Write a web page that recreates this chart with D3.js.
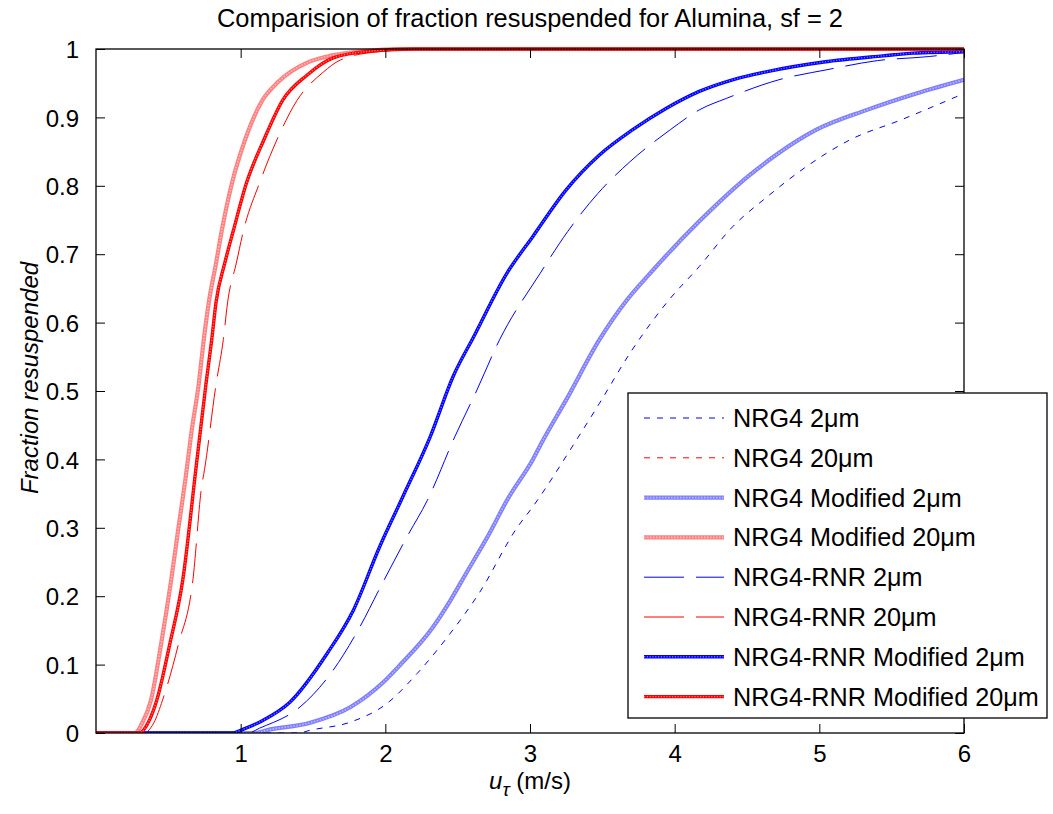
<!DOCTYPE html>
<html><head><meta charset="utf-8">
<script src="https://cdn.jsdelivr.net/npm/d3@7"></script>
<style>
html,body{margin:0;padding:0;background:#fff;}
text{font-family:"Liberation Sans",Arial,sans-serif;fill:#000;}
</style></head>
<body>
<svg id="chart" width="1053" height="814"></svg>
<script>
// ---- data ----
const title = "Comparision of fraction resuspended for Alumina, sf = 2";
const xTicks = [1, 2, 3, 4, 5, 6];
const yTicks = [0, 0.1, 0.2, 0.3, 0.4, 0.5, 0.6, 0.7, 0.8, 0.9, 1];
const yTickLabels = ["0","0.1","0.2","0.3","0.4","0.5","0.6","0.7","0.8","0.9","1"];

const nrg4_2 = [[0,0],[1.4,0],[1.48,0.004],[1.76,0.016],[2.01,0.043],[2.22,0.087],[2.45,0.146],[2.65,0.205],[2.91,0.30],[3.02,0.331],[3.32,0.428],[3.48,0.482],[3.69,0.555],[3.96,0.633],[4.17,0.682],[4.40,0.740],[4.64,0.784],[4.91,0.828],[5.21,0.867],[5.56,0.896],[6.0,0.935]];
const nrg4_20 = [[0,0],[0.30,0],[0.36,0.016],[0.42,0.05],[0.51,0.132],[0.60,0.226],[0.69,0.387],[0.76,0.512],[0.80,0.577],[0.83,0.632],[0.89,0.689],[0.95,0.737],[1.04,0.806],[1.16,0.869],[1.29,0.926],[1.46,0.963],[1.64,0.988],[1.9,0.997],[2.2,1],[6,1]];
const nrg4Mod_2 = [[0,0],[1.1,0],[1.18,0.004],[1.48,0.015],[1.76,0.038],[1.98,0.073],[2.10,0.099],[2.33,0.155],[2.45,0.194],[2.56,0.234],[2.72,0.292],[2.84,0.34],[3.02,0.40],[3.09,0.428],[3.25,0.487],[3.48,0.575],[3.67,0.633],[3.83,0.672],[4.17,0.748],[4.52,0.816],[4.70,0.845],[4.98,0.882],[5.33,0.911],[5.67,0.935],[6.0,0.955]];
const nrg4Mod_20 = [[0,0],[0.27,0],[0.32,0.015],[0.38,0.048],[0.45,0.13],[0.52,0.224],[0.57,0.30],[0.62,0.374],[0.66,0.44],[0.71,0.51],[0.745,0.575],[0.78,0.63],[0.83,0.687],[0.87,0.735],[0.94,0.804],[1.03,0.867],[1.15,0.925],[1.26,0.952],[1.46,0.98],[1.64,0.991],[1.85,0.997],[2.1,1],[6,1]];
const rnr_2 = [[0,0],[1.05,0],[1.13,0.007],[1.41,0.038],[1.64,0.092],[1.80,0.146],[1.98,0.219],[2.15,0.287],[2.29,0.34],[2.48,0.433],[2.63,0.50],[2.79,0.575],[3.07,0.672],[3.26,0.733],[3.47,0.789],[3.69,0.835],[3.97,0.882],[4.17,0.911],[4.36,0.928],[4.72,0.955],[5.06,0.970],[5.40,0.983],[5.76,0.989],[6.0,0.995]];
const rnr_20 = [[0,0],[0.33,0],[0.40,0.015],[0.46,0.048],[0.57,0.13],[0.67,0.224],[0.73,0.36],[0.75,0.385],[0.83,0.51],[0.88,0.575],[0.91,0.63],[0.97,0.687],[1.02,0.735],[1.13,0.804],[1.25,0.867],[1.39,0.925],[1.57,0.966],[1.69,0.984],[1.95,0.996],[2.3,1],[6,1]];
const rnrMod_2 = [[0,0],[0.95,0],[1.0,0.004],[1.15,0.018],[1.34,0.045],[1.60,0.117],[1.78,0.18],[1.96,0.272],[2.12,0.345],[2.31,0.433],[2.47,0.522],[2.61,0.579],[2.84,0.672],[3.02,0.726],[3.25,0.794],[3.48,0.845],[3.71,0.882],[3.94,0.913],[4.17,0.938],[4.40,0.955],[4.64,0.967],[5.03,0.981],[5.44,0.990],[5.65,0.994],[6.0,0.996]];
const rnrMod_20 = [[0,0],[0.30,0],[0.36,0.015],[0.42,0.048],[0.51,0.13],[0.60,0.224],[0.69,0.385],[0.76,0.51],[0.80,0.575],[0.83,0.63],[0.89,0.687],[0.95,0.735],[1.04,0.804],[1.16,0.867],[1.29,0.925],[1.46,0.962],[1.64,0.987],[1.9,0.997],[2.2,1],[6,1]];

const seriesNames = ["NRG4 2\u03bcm","NRG4 20\u03bcm","NRG4 Modified 2\u03bcm","NRG4 Modified 20\u03bcm","NRG4-RNR 2\u03bcm","NRG4-RNR 20\u03bcm","NRG4-RNR Modified 2\u03bcm","NRG4-RNR Modified 20\u03bcm"];
const seriesData = [nrg4_2, nrg4_20, nrg4Mod_2, nrg4Mod_20, rnr_2, rnr_20, rnrMod_2, rnrMod_20];

// styles
const styles = [
  {color:"#0000ff", width:1, dash:"6,7"},
  {color:"#ff0000", width:1, dash:"6,7"},
  {color:"#8080ff", width:4.2, dash:null, over:"#b8b8ff", overDash:"1.5,1.5", overW:1.6},
  {color:"#ff8080", width:4.2, dash:null, over:"#ffb8b8", overDash:"1.5,1.5", overW:1.6},
  {color:"#0000ff", width:1, dash:"40,12"},
  {color:"#ff0000", width:1, dash:"40,12"},
  {color:"#0000ff", width:3.4, dash:null, over:"#7070ff", overDash:"1.2,1.6", overW:1.4},
  {color:"#ff0000", width:3.4, dash:null, over:"#ff7070", overDash:"1.2,1.6", overW:1.4}
];

const svg = d3.select("#chart");
const L = 96, R = 964, T = 49, B = 733;
const x = d3.scaleLinear().domain([0, 6]).range([L, R]);
const y = d3.scaleLinear().domain([0, 1]).range([B, T]);

svg.append("rect").attr("width",1053).attr("height",814).attr("fill","#fff");

svg.append("clipPath").attr("id","clip").append("rect")
  .attr("x",L).attr("y",T-3).attr("width",R-L).attr("height",B-T+3);

const line = d3.line().x(d=>x(d[0])).y(d=>y(d[1])).curve(d3.curveMonotoneX);

const g = svg.append("g").attr("clip-path","url(#clip)");
seriesData.forEach((d,i)=>{
  const s = styles[i];
  g.append("path").attr("d", line(d)).attr("fill","none")
    .attr("stroke", s.color).attr("stroke-width", s.width)
    .attr("stroke-dasharray", s.dash);
  if (s.over) {
    g.append("path").attr("d", line(d)).attr("fill","none")
      .attr("stroke", s.over).attr("stroke-width", s.overW)
      .attr("stroke-dasharray", s.overDash);
  }
});

// axes box
const ax = svg.append("g");
ax.append("rect").attr("x",L).attr("y",T).attr("width",R-L).attr("height",B-T)
  .attr("fill","none").attr("stroke","#000").attr("stroke-width",1.3);

const tickLen = 9;
const xAxisB = d3.axisBottom(x).tickValues(xTicks).tickSize(-tickLen).tickSizeOuter(0).tickFormat(d3.format("d"));
const gxb = svg.append("g").attr("transform",`translate(0,${B})`).call(xAxisB);
gxb.select(".domain").remove();
gxb.selectAll("line").attr("stroke","#000");
gxb.selectAll("text").attr("font-size",24).attr("dy",null).attr("y",29)
  .style("font-family","'Liberation Sans',Arial,sans-serif");

const xAxisT = d3.axisTop(x).tickValues(xTicks).tickSize(-tickLen).tickSizeOuter(0).tickFormat("");
const gxt = svg.append("g").attr("transform",`translate(0,${T})`).call(xAxisT);
gxt.select(".domain").remove();
gxt.selectAll("line").attr("stroke","#000");

const yAxisL = d3.axisLeft(y).tickValues(yTicks).tickSize(-tickLen).tickSizeOuter(0)
  .tickFormat((d,i)=>yTickLabels[i]).tickPadding(17);
const gyl = svg.append("g").attr("transform",`translate(${L},0)`).call(yAxisL);
gyl.select(".domain").remove();
gyl.selectAll("line").attr("stroke","#000");
gyl.selectAll("text").attr("font-size",24).attr("dy","0.36em")
  .style("font-family","'Liberation Sans',Arial,sans-serif");

const yAxisR = d3.axisRight(y).tickValues(yTicks).tickSize(-tickLen).tickSizeOuter(0).tickFormat("");
const gyr = svg.append("g").attr("transform",`translate(${R},0)`).call(yAxisR);
gyr.select(".domain").remove();
gyr.selectAll("line").attr("stroke","#000");

// title
svg.append("text").attr("x",(L+R)/2).attr("y",27).attr("text-anchor","middle")
  .attr("font-size",25.4).text(title);

// x label
const xl = svg.append("text").attr("x",530).attr("y",789).attr("text-anchor","middle").attr("font-size",24);
xl.append("tspan").attr("font-style","italic").text("u");
xl.append("tspan").attr("font-size",19).attr("dy",7).attr("font-style","italic").text("\u03c4");
xl.append("tspan").attr("dy",-7).text(" (m/s)");

// y label
svg.append("text").attr("transform","translate(38,378) rotate(-90)")
  .attr("text-anchor","middle").attr("font-size",24).attr("font-style","italic")
  .text("Fraction resuspended");

// legend
const lg = svg.append("g");
lg.append("rect").attr("x",628).attr("y",393).attr("width",419).attr("height",325)
  .attr("fill","#fff").attr("stroke","#000").attr("stroke-width",1.3);
const ly0 = 418, lstep = 39.8;
seriesNames.forEach((name,i)=>{
  const s = styles[i];
  const yy = ly0 + i*lstep;
  lg.append("line").attr("x1",644).attr("x2",724).attr("y1",yy).attr("y2",yy)
    .attr("stroke",s.color).attr("stroke-width",s.width).attr("stroke-dasharray",s.dash);
  if (s.over) {
    lg.append("line").attr("x1",644).attr("x2",724).attr("y1",yy).attr("y2",yy)
      .attr("stroke",s.over).attr("stroke-width",s.overW).attr("stroke-dasharray",s.overDash);
  }
  lg.append("text").attr("x",733).attr("y",yy+9).attr("font-size",25.2).text(name);
});
</script>
</body></html>
